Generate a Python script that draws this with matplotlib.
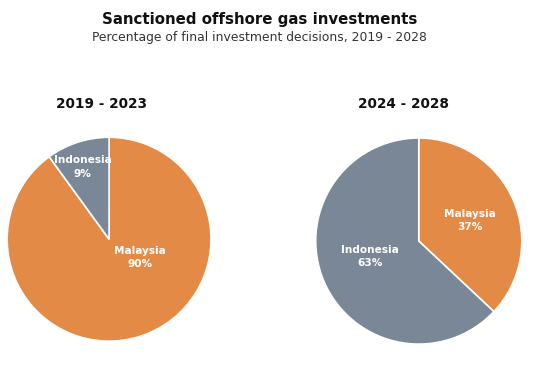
import matplotlib
matplotlib.use("Agg")
import matplotlib.pyplot as plt

plt.rcParams['font.family'] = ['DejaVu Sans']

countries = ["Malaysia", "Indonesia"]
share_2019_2023 = [90, 10]
labels_2019_2023 = ["90%", "9%"]
share_2024_2028 = [37, 63]
labels_2024_2028 = ["37%", "63%"]
period_titles = ["2019 - 2023", "2024 - 2028"]

colors = {"Malaysia": "#E38A47", "Indonesia": "#7A8797"}

fig = plt.figure(figsize=(5.4, 3.7), dpi=100)
fig.patch.set_facecolor("white")

fig.text(0.481, 0.946, "Sanctioned offshore gas investments", ha="center", va="center",
         fontsize=10.8, fontweight="bold", color="#111111")
fig.text(0.481, 0.900, "Percentage of final investment decisions, 2019 - 2028", ha="center",
         va="center", fontsize=8.9, color="#333333")

panels = [
    (share_2019_2023, labels_2019_2023, [0.013, 0.078, 0.378, 0.551],
     {"Malaysia": (0.30, -0.18), "Indonesia": (-0.26, 0.71)}, 0.188),
    (share_2024_2028, labels_2024_2028, [0.583, 0.070, 0.385, 0.557],
     {"Malaysia": (0.50, 0.20), "Indonesia": (-0.47, -0.15)}, 0.748),
]

for (vals, pcts, rect, lab_pos, title_x), ttl in zip(panels, period_titles):
    ax = fig.add_axes(rect)
    ax.pie(vals, colors=[colors[c] for c in countries], startangle=90,
           counterclock=False, wedgeprops=dict(edgecolor="white", linewidth=1.2))
    ax.set_xlim(-1, 1)
    ax.set_ylim(-1, 1)
    ax.set_aspect("equal")
    ax.axis("off")
    for c, p in zip(countries, pcts):
        x, y = lab_pos[c]
        ax.text(x, y, f"{c}\n{p}", ha="center", va="center", color="white",
                fontsize=7.6, fontweight="bold", linespacing=1.45)
    fig.text(title_x, 0.719, ttl, ha="center", va="center", fontsize=9.8,
             fontweight="bold", color="#111111")

fig.savefig("out.png", dpi=100, facecolor="white")
